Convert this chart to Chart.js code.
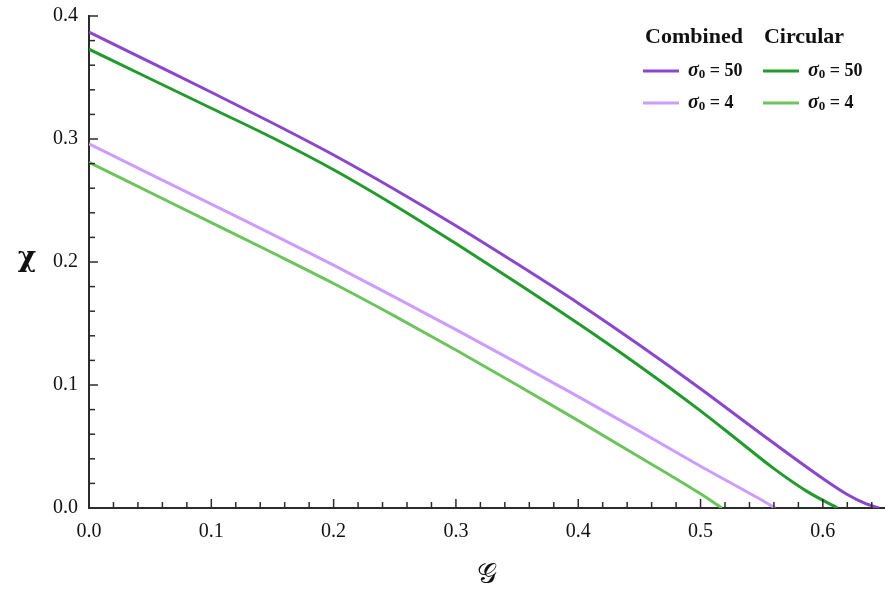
<!DOCTYPE html>
<html>
<head>
<meta charset="utf-8">
<script src="https://cdn.jsdelivr.net/npm/chart.js@4.4.1/dist/chart.umd.min.js"></script>
<style>
  html, body { margin: 0; padding: 0; background: #fff; }
  #wrap { width: 889px; height: 598px; position: relative; }
</style>
</head>
<body>
<div id="wrap"><canvas id="chiChart"></canvas></div>
<script>
// G values and chi values
const gComb50 = [0, 0.05, 0.1, 0.15, 0.2, 0.25, 0.3, 0.35, 0.4, 0.45, 0.5, 0.55, 0.6, 0.62, 0.635, 0.646];
const chiComb50 = [0.387, 0.3625, 0.338, 0.313, 0.287, 0.259, 0.2295, 0.1985, 0.1665, 0.1325, 0.097, 0.060, 0.024, 0.011, 0.0035, 0.0];

const gCirc50 = [0, 0.05, 0.1, 0.15, 0.2, 0.25, 0.3, 0.35, 0.4, 0.45, 0.5, 0.53, 0.56, 0.587, 0.612];
const chiCirc50 = [0.373, 0.349, 0.325, 0.301, 0.275, 0.246, 0.215, 0.183, 0.150, 0.1155, 0.079, 0.0555, 0.032, 0.0135, 0.0];

const gComb4 = [0, 0.05, 0.1, 0.15, 0.2, 0.25, 0.3, 0.35, 0.4, 0.45, 0.5, 0.53, 0.55, 0.561];
const chiComb4 = [0.296, 0.2715, 0.247, 0.2225, 0.1975, 0.1715, 0.145, 0.118, 0.0905, 0.0625, 0.034, 0.0175, 0.0065, 0.0];

const gCirc4 = [0, 0.05, 0.1, 0.15, 0.2, 0.25, 0.3, 0.35, 0.4, 0.45, 0.5, 0.5175];
const chiCirc4 = [0.281, 0.2565, 0.232, 0.2075, 0.1825, 0.156, 0.1285, 0.1, 0.071, 0.0415, 0.0115, 0.0];

const xTicks = [0, 0.1, 0.2, 0.3, 0.4, 0.5, 0.6];
const yTicks = [0, 0.1, 0.2, 0.3, 0.4];

const legendHeaders = ['Combined', 'Circular'];
const legendValues = ['50', '4'];

const colors = {
  comb50: '#8a46cc',
  circ50: '#229a2c',
  comb4: '#cc9dff',
  circ4: '#6dc45c'
};

const toPoints = (xs, ys) => xs.map((g, i) => ({ x: g, y: ys[i] }));

const serif = "'Liberation Serif', 'Times New Roman', serif";
const axisColor = '#2b2b2b';

// inward ticks, unrotated y title and the two-column legend
const decorations = {
  id: 'decorations',
  afterDraw(chart) {
    const { ctx, scales: { x, y } } = chart;
    ctx.save();
    ctx.strokeStyle = axisColor;
    ctx.lineWidth = 1.5;

    const x0 = x.left, y0 = y.bottom;
    for (let i = 1; i <= 32; i++) {
      const px = x.getPixelForValue(i * 0.02);
      const len = (i % 5 === 0) ? 9 : 6;
      ctx.beginPath(); ctx.moveTo(px, y0); ctx.lineTo(px, y0 - len); ctx.stroke();
    }
    for (let i = 1; i <= 20; i++) {
      const py = y.getPixelForValue(i * 0.02);
      const len = (i % 5 === 0) ? 9 : 6;
      ctx.beginPath(); ctx.moveTo(x0, py); ctx.lineTo(x0 + len, py); ctx.stroke();
    }

    // y title
    ctx.fillStyle = '#111';
    ctx.font = "bold 28px 'DejaVu Serif', serif";
    ctx.textAlign = 'center';
    ctx.textBaseline = 'middle';
    ctx.fillText('χ', 27, 259);

    // legend
    const cols = [
      { hx: 694, lineX: 643, textX: 688, sets: [colors.comb50, colors.comb4] },
      { hx: 804, lineX: 763, textX: 808, sets: [colors.circ50, colors.circ4] }
    ];
    const rows = [71, 103];
    cols.forEach((c, ci) => {
      ctx.fillStyle = '#111';
      ctx.font = 'bold 22px ' + serif;
      ctx.textAlign = 'center';
      ctx.textBaseline = 'alphabetic';
      ctx.fillText(legendHeaders[ci], c.hx, 43);
      rows.forEach((ry, ri) => {
        ctx.strokeStyle = c.sets[ri];
        ctx.lineWidth = 3;
        ctx.beginPath(); ctx.moveTo(c.lineX, ry); ctx.lineTo(c.lineX + 36, ry); ctx.stroke();
        ctx.fillStyle = '#111';
        ctx.textAlign = 'left';
        ctx.textBaseline = 'middle';
        let tx = c.textX;
        ctx.font = 'italic bold 20px ' + serif;
        ctx.fillText('σ', tx, ry);
        tx += ctx.measureText('σ').width;
        ctx.font = 'bold 13px ' + serif;
        ctx.fillText('0', tx, ry + 4);
        tx += ctx.measureText('0').width;
        ctx.font = 'bold 18px ' + serif;
        ctx.fillText(' = ' + legendValues[ri], tx, ry);
      });
    });
    ctx.restore();
  }
};

const lineStyle = (label, data, color) => ({
  label,
  data,
  borderColor: color,
  backgroundColor: color,
  borderWidth: 3,
  pointRadius: 0,
  fill: false,
  cubicInterpolationMode: 'monotone'
});

new Chart(document.getElementById('chiChart'), {
  type: 'line',
  data: {
    datasets: [
      lineStyle('Combined σ0 = 50', toPoints(gComb50, chiComb50), colors.comb50),
      lineStyle('Circular σ0 = 50', toPoints(gCirc50, chiCirc50), colors.circ50),
      lineStyle('Combined σ0 = 4', toPoints(gComb4, chiComb4), colors.comb4),
      lineStyle('Circular σ0 = 4', toPoints(gCirc4, chiCirc4), colors.circ4)
    ]
  },
  options: {
    responsive: true,
    maintainAspectRatio: false,
    animation: false,
    layout: { padding: { top: 16, right: 5, left: 0, bottom: 0 } },
    plugins: {
      legend: { display: false },
      tooltip: { enabled: false }
    },
    scales: {
      x: {
        type: 'linear',
        min: 0,
        max: 0.65,
        afterBuildTicks: s => { s.ticks = xTicks.map(v => ({ value: v })); },
        afterFit: s => { s.height = 90; },
        grid: { display: false, drawTicks: false },
        border: { display: true, color: axisColor, width: 2 },
        ticks: {
          color: '#111',
          padding: 12,
          maxRotation: 0,
          font: { family: serif, size: 20 },
          callback: v => v.toFixed(1)
        },
        title: {
          display: true,
          text: '𝒢',
          color: '#111',
          font: { family: serif, size: 28 },
          padding: { top: 4, bottom: 6 }
        }
      },
      y: {
        type: 'linear',
        min: 0,
        max: 0.4,
        afterBuildTicks: s => { s.ticks = yTicks.map(v => ({ value: v })); },
        afterFit: s => { s.width = 89; s.paddingTop = 0; s.paddingBottom = 0; },
        grid: { display: false, drawTicks: false },
        border: { display: true, color: axisColor, width: 2 },
        ticks: {
          color: '#111',
          padding: 11,
          font: { family: serif, size: 20 },
          callback: v => v.toFixed(1)
        }
      }
    }
  },
  plugins: [decorations]
});
</script>
</body>
</html>
